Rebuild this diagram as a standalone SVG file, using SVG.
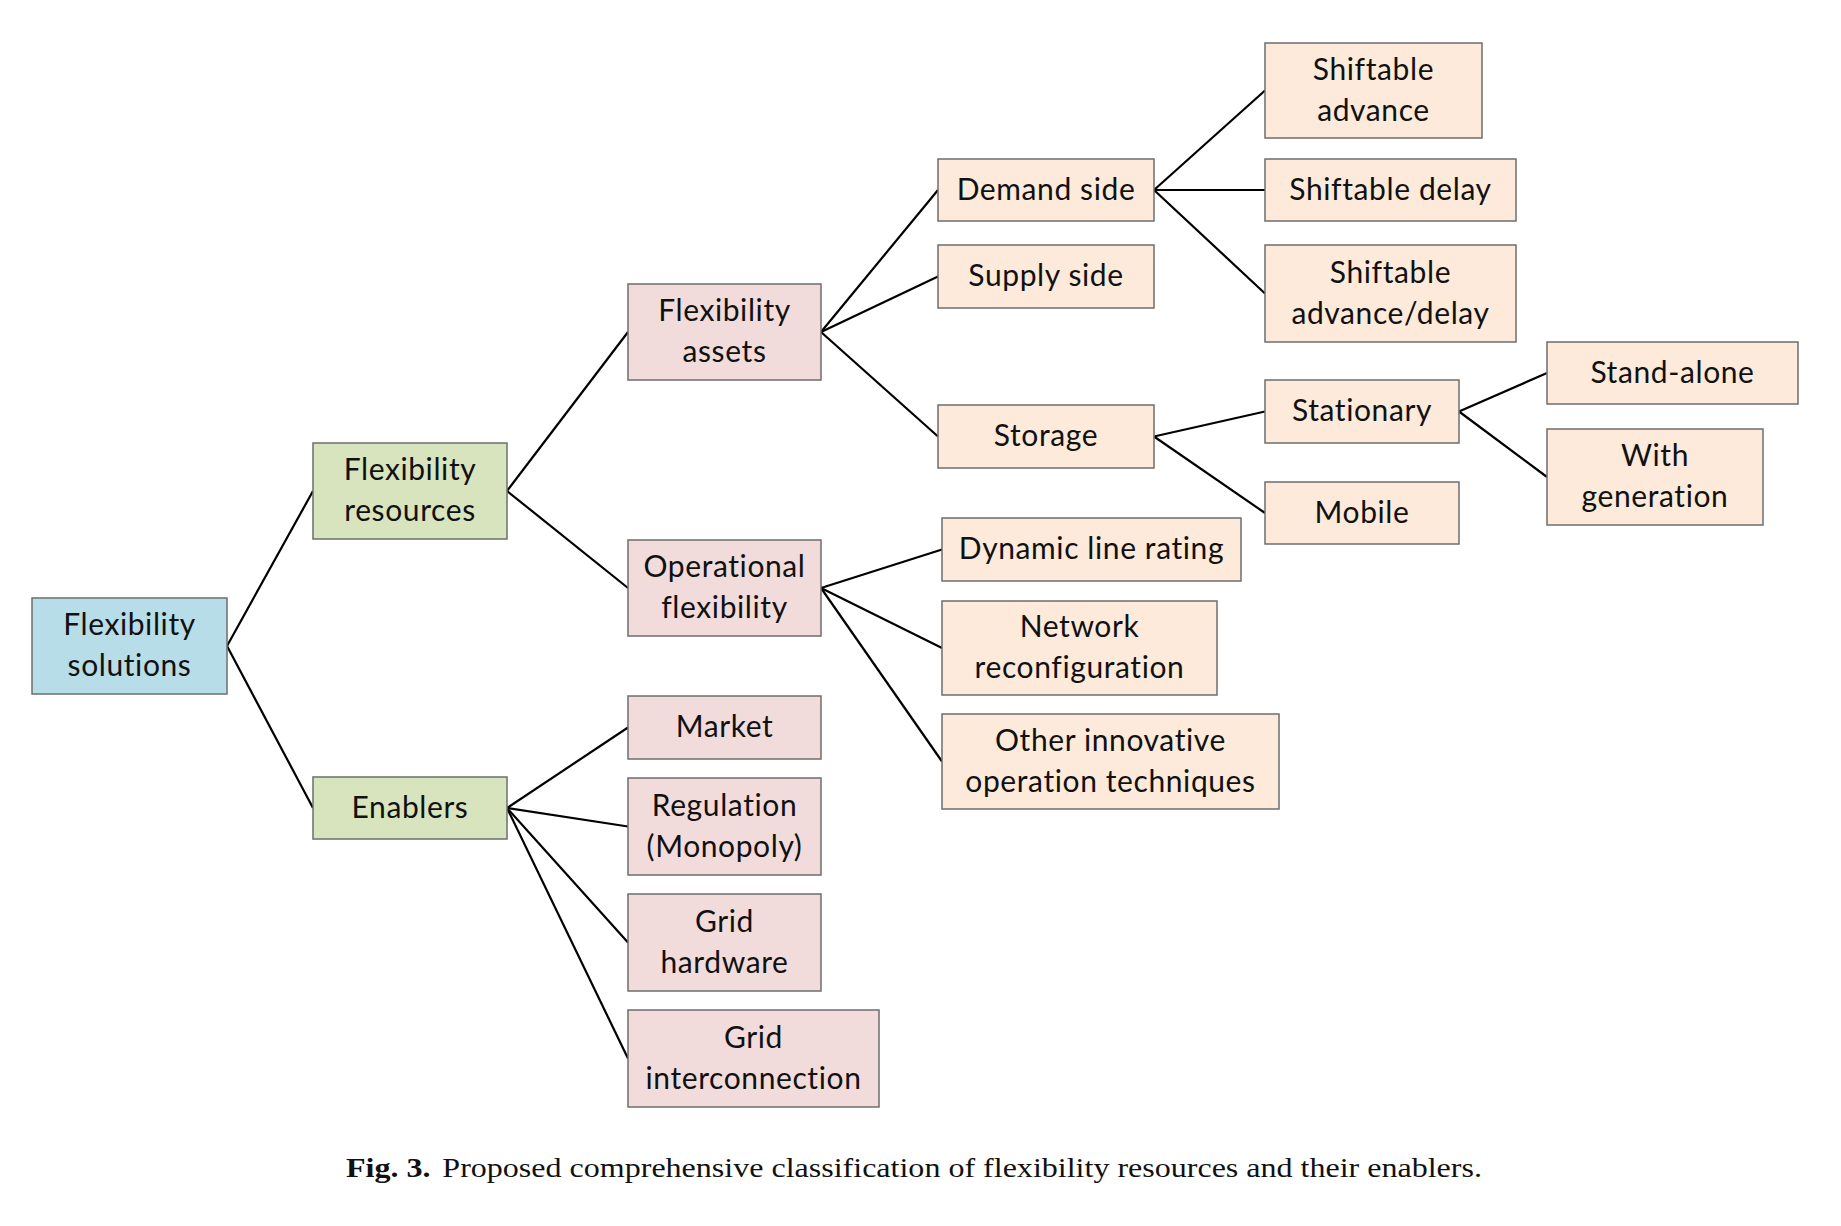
<svg xmlns="http://www.w3.org/2000/svg" width="1841" height="1226" viewBox="0 0 1841 1226">
<style>
.box{stroke:#6e6e6e;stroke-width:1.5}
.blue{fill:#b7dde8}
.green{fill:#d7e4bd}
.pink{fill:#f2dcdb}
.peach{fill:#fdeada}
text.t{font-family:Lato,"Noto Sans","Liberation Sans",sans-serif;font-size:30px;fill:#111;text-anchor:middle;letter-spacing:0.6px}
.con line{stroke:#000;stroke-width:2.2}
.cap{font-family:"Liberation Serif","DejaVu Serif",serif;font-size:27px;fill:#111}
</style>
<rect width="1841" height="1226" fill="#fff"/>
<g class="con">
<line x1="227" y1="646" x2="313" y2="491"/>
<line x1="227" y1="646" x2="313" y2="808"/>
<line x1="507" y1="491" x2="628" y2="332"/>
<line x1="507" y1="491" x2="628" y2="588"/>
<line x1="507" y1="808" x2="628" y2="727.5"/>
<line x1="507" y1="808" x2="628" y2="826.5"/>
<line x1="507" y1="808" x2="628" y2="942.5"/>
<line x1="507" y1="808" x2="628" y2="1058.5"/>
<line x1="821" y1="332" x2="938" y2="190"/>
<line x1="821" y1="332" x2="938" y2="276.5"/>
<line x1="821" y1="332" x2="938" y2="436.5"/>
<line x1="821" y1="588" x2="942" y2="549.5"/>
<line x1="821" y1="588" x2="942" y2="648"/>
<line x1="821" y1="588" x2="942" y2="761.5"/>
<line x1="1154" y1="190" x2="1265" y2="90.5"/>
<line x1="1154" y1="190" x2="1265" y2="190"/>
<line x1="1154" y1="190" x2="1265" y2="293.5"/>
<line x1="1154" y1="436.5" x2="1265" y2="411.5"/>
<line x1="1154" y1="436.5" x2="1265" y2="513"/>
<line x1="1459" y1="411.5" x2="1547" y2="373"/>
<line x1="1459" y1="411.5" x2="1547" y2="477"/>
</g>
<g id="root"><rect class="box blue" x="32" y="598" width="195" height="96"/><text class="t" x="129.5" y="635">Flexibility</text><text class="t" x="129.5" y="676">solutions</text></g>
<g id="resources"><rect class="box green" x="313" y="443" width="194" height="96"/><text class="t" x="410" y="480">Flexibility</text><text class="t" x="410" y="521">resources</text></g>
<g id="enablers"><rect class="box green" x="313" y="777" width="194" height="62"/><text class="t" x="410" y="817.5">Enablers</text></g>
<g id="assets"><rect class="box pink" x="628" y="284" width="193" height="96"/><text class="t" x="724.5" y="321">Flexibility</text><text class="t" x="724.5" y="362">assets</text></g>
<g id="operational"><rect class="box pink" x="628" y="540" width="193" height="96"/><text class="t" x="724.5" y="577">Operational</text><text class="t" x="724.5" y="618">flexibility</text></g>
<g id="market"><rect class="box pink" x="628" y="696" width="193" height="63"/><text class="t" x="724.5" y="737">Market</text></g>
<g id="regulation"><rect class="box pink" x="628" y="778" width="193" height="97"/><text class="t" x="724.5" y="815.5">Regulation</text><text class="t" x="724.5" y="856.5">(Monopoly)</text></g>
<g id="hardware"><rect class="box pink" x="628" y="894" width="193" height="97"/><text class="t" x="724.5" y="931.5">Grid</text><text class="t" x="724.5" y="972.5">hardware</text></g>
<g id="interconnection"><rect class="box pink" x="628" y="1010" width="251" height="97"/><text class="t" x="753.5" y="1047.5">Grid</text><text class="t" x="753.5" y="1088.5">interconnection</text></g>
<g id="demand"><rect class="box peach" x="938" y="159" width="216" height="62"/><text class="t" x="1046" y="199.5">Demand side</text></g>
<g id="supply"><rect class="box peach" x="938" y="245" width="216" height="63"/><text class="t" x="1046" y="286">Supply side</text></g>
<g id="storage"><rect class="box peach" x="938" y="405" width="216" height="63"/><text class="t" x="1046" y="446">Storage</text></g>
<g id="dlr"><rect class="box peach" x="942" y="518" width="299" height="63"/><text class="t" x="1091.5" y="559">Dynamic line rating</text></g>
<g id="network"><rect class="box peach" x="942" y="601" width="275" height="94"/><text class="t" x="1079.5" y="637">Network</text><text class="t" x="1079.5" y="678">reconfiguration</text></g>
<g id="other"><rect class="box peach" x="942" y="714" width="337" height="95"/><text class="t" x="1110.5" y="750.5">Other innovative</text><text class="t" x="1110.5" y="791.5">operation techniques</text></g>
<g id="shift-adv"><rect class="box peach" x="1265" y="43" width="217" height="95"/><text class="t" x="1373.5" y="79.5">Shiftable</text><text class="t" x="1373.5" y="120.5">advance</text></g>
<g id="shift-delay"><rect class="box peach" x="1265" y="159" width="251" height="62"/><text class="t" x="1390.5" y="199.5">Shiftable delay</text></g>
<g id="shift-adv-delay"><rect class="box peach" x="1265" y="245" width="251" height="97"/><text class="t" x="1390.5" y="282.5">Shiftable</text><text class="t" x="1390.5" y="323.5">advance/delay</text></g>
<g id="stationary"><rect class="box peach" x="1265" y="380" width="194" height="63"/><text class="t" x="1362" y="421">Stationary</text></g>
<g id="mobile"><rect class="box peach" x="1265" y="482" width="194" height="62"/><text class="t" x="1362" y="522.5">Mobile</text></g>
<g id="standalone"><rect class="box peach" x="1547" y="342" width="251" height="62"/><text class="t" x="1672.5" y="382.5">Stand-alone</text></g>
<g id="withgen"><rect class="box peach" x="1547" y="429" width="216" height="96"/><text class="t" x="1655" y="466">With</text><text class="t" x="1655" y="507">generation</text></g>
<text class="cap" x="346" y="1177" textLength="1136" lengthAdjust="spacingAndGlyphs"><tspan font-weight="bold">Fig. 3.</tspan><tspan dx="10">Proposed comprehensive classification of flexibility resources and their enablers.</tspan></text>
</svg>
